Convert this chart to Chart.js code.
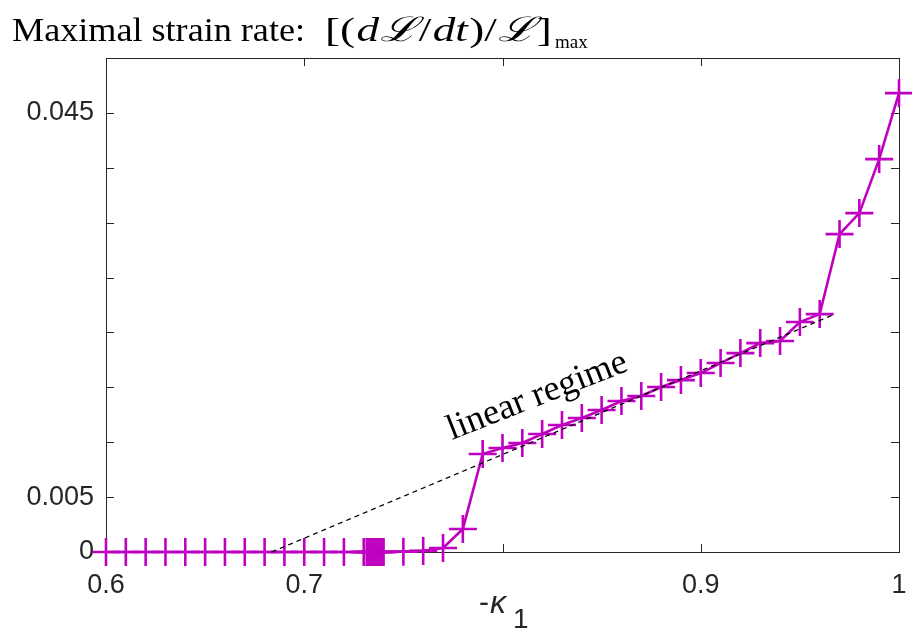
<!DOCTYPE html>
<html><head><meta charset="utf-8">
<script src="https://cdn.jsdelivr.net/npm/chart.js@4.4.0/dist/chart.umd.min.js"></script>
<style>html,body{margin:0;padding:0;background:#fff}#wrap{width:912px;height:637px;position:relative}</style>
</head><body><div id="wrap"><canvas id="c" width="912" height="637"></canvas></div>
<script>
// ---- data ----
const kappaValues = [0.60,0.61,0.62,0.63,0.64,0.65,0.66,0.67,0.68,0.69,0.70,0.71,0.72,0.73,
  0.7315,0.7325,0.733,0.734,0.735,0.736,0.737,0.738,0.739,0.740,
  0.75,0.76,0.77,0.78,0.79,0.80,0.81,0.82,0.83,0.84,0.85,0.86,0.87,0.88,0.89,0.90,
  0.91,0.92,0.93,0.94,0.95,0.96,0.97,0.98,0.99,1.00];
const rateValues = [0,0,0,0,0,0,0,0,0,0,0,0,0,0,
  0,0,0,0,0,0,0,0,0,0,
  0.00003,0.0001,0.00036,0.0021,0.00893,0.00947,0.00993,0.01075,0.01157,0.0122,0.01293,0.01375,0.01421,0.01503,0.01566,0.0163,
  0.01721,0.01812,0.01903,0.01922,0.02095,0.02167,0.02896,0.03087,0.03579,0.0418];
const trendKappa = [0.6835, 0.9677];
const trendRate = [0.0, 0.02167];
const xTickLabels = ['0.6','0.7','','0.9','1'];
const yTickLabels = ['0','0.005','','','','','','','0.045',''];
const titleText = 'Maximal strain rate:';
const annotationText = 'linear regime';

const MAG = '#c000c0';
const AX = '#262626';

const mainData = kappaValues.map((k,i)=>({x:k,y:rateValues[i]}));
const trendData = trendKappa.map((k,i)=>({x:k,y:trendRate[i]}));

const decor = {
  id:'decor',
  beforeDatasetsDraw(chart){
    const {ctx, chartArea:a, scales:{x,y}} = chart;
    ctx.save();
    ctx.strokeStyle = AX; ctx.lineWidth = 1;
    ctx.strokeRect(Math.round(a.left)+0.5, Math.round(a.top)+0.5, Math.round(a.right-a.left), Math.round(a.bottom-a.top));
    const TL = 8;
    ctx.beginPath();
    x.ticks.forEach(t=>{
      const px = Math.round(x.getPixelForValue(t.value))+0.5;
      ctx.moveTo(px, a.bottom); ctx.lineTo(px, a.bottom-TL);
      ctx.moveTo(px, a.top); ctx.lineTo(px, a.top+TL);
    });
    y.ticks.forEach(t=>{
      const py = Math.round(y.getPixelForValue(t.value))+0.5;
      ctx.moveTo(a.left, py); ctx.lineTo(a.left+TL, py);
      ctx.moveTo(a.right, py); ctx.lineTo(a.right-TL, py);
    });
    ctx.stroke();
    ctx.restore();
  },
  afterDraw(chart){
    const {ctx} = chart;
    ctx.save();
    ctx.fillStyle = '#000';
    ctx.textBaseline = 'alphabetic';
    const by = 41;
    // title, plain part stretched to 12..305
    ctx.font = '34px "Liberation Serif"';
    let w = ctx.measureText(titleText).width;
    ctx.save(); ctx.translate(12, by); ctx.scale(293/w, 1); ctx.fillText(titleText, 0, 0); ctx.restore();
    // math part 325..553
    const parts = [
      ['[(', '34px "Liberation Serif"'],
      ['d', 'italic 34px "Liberation Serif"'],
      ['\u2112', 'italic 34px "DejaVu Serif"'],
      ['/', '34px "Liberation Serif"'],
      ['dt', 'italic 34px "Liberation Serif"'],
      [')/', '34px "Liberation Serif"'],
      ['\u2112', 'italic 34px "DejaVu Serif"'],
      [']', '34px "Liberation Serif"']
    ];
    let tot = 0;
    parts.forEach(([t,f])=>{ ctx.font=f; tot += ctx.measureText(t).width + 1; });
    const sx = 228/tot;
    ctx.save(); ctx.translate(325, by); ctx.scale(sx, 1);
    let cx = 0;
    parts.forEach(([t,f])=>{ ctx.font=f; ctx.fillText(t,cx,0); cx += ctx.measureText(t).width + 1; });
    ctx.restore();
    ctx.font = '19px "Liberation Serif"';
    ctx.fillText('max', 555, by+7);
    // x-axis title
    ctx.fillStyle = AX;
    ctx.font = '30px "Liberation Sans"';
    ctx.fillText('-', 479, 612);
    ctx.font = 'italic 32px "Liberation Sans"';
    ctx.fillText('\u03ba', 490, 613);
    ctx.font = '28px "Liberation Sans"';
    ctx.fillText('1', 513, 628);
    // annotation
    ctx.fillStyle = '#000';
    ctx.translate(452, 440);
    ctx.rotate(-21.5*Math.PI/180);
    ctx.font = '36px "Liberation Serif"';
    ctx.fillText(annotationText, 0, 0);
    ctx.restore();
  }
};

new Chart(document.getElementById('c'), {
  type:'line',
  data:{datasets:[
    {data:trendData, borderColor:'#000', borderWidth:1.3, borderDash:[5,4], pointRadius:0, order:0, clip:false, tension:0},
    {data:mainData, borderColor:MAG, borderWidth:2.6, pointStyle:'cross', pointRadius:14, pointBorderWidth:2.6,
     pointBorderColor:MAG, pointBackgroundColor:MAG, order:1, clip:false, tension:0}
  ]},
  options:{
    responsive:false, animation:false, devicePixelRatio:1,
    layout:{autoPadding:false, padding:{top:58,right:13,left:0,bottom:0}},
    plugins:{legend:{display:false}, tooltip:{enabled:false}, title:{display:false}},
    scales:{
      x:{type:'linear', min:0.6, max:1,
        grid:{display:false, drawTicks:false}, border:{display:false},
        ticks:{stepSize:0.1, autoSkip:false, maxRotation:0, padding:17, color:AX,
          font:{family:'"Liberation Sans"', size:27},
          callback:(v,i)=>xTickLabels[i] ?? ''},
        afterFit(s){ s.height = 85; s.paddingLeft = 0; s.paddingRight = 0; }
      },
      y:{type:'linear', min:0, max:0.045,
        grid:{display:false, drawTicks:false}, border:{display:false},
        ticks:{stepSize:0.005, autoSkip:false, padding:12, color:AX,
          font:{family:'"Liberation Sans"', size:27},
          callback:(v,i)=>yTickLabels[i] ?? ''},
        afterFit(s){ s.width = 106; s.paddingTop = 0; s.paddingBottom = 0; }
      }
    }
  },
  plugins:[decor]
});
</script></body></html>
